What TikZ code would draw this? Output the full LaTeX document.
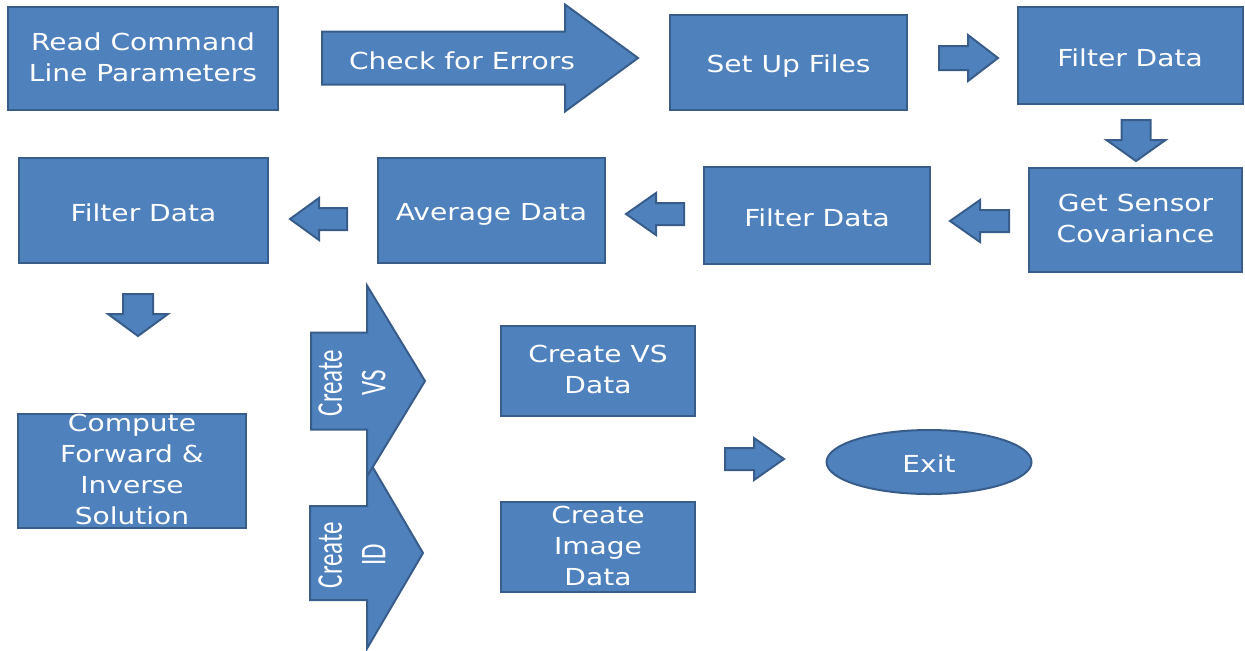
\documentclass[tikz,border=0pt]{standalone}
\usepackage{fontspec}
\setmainfont{DejaVu Sans}[FakeStretch=1.2]
\newfontfamily\narrowfont{Carlito}
\usetikzlibrary{shapes.geometric}

\definecolor{boxfill}{RGB}{79,129,189}
\definecolor{boxline}{RGB}{56,93,138}
\newcommand{\capstrut}{\rule[-1.5pt]{0pt}{13.9pt}}

\begin{document}
\begin{tikzpicture}[x=0.5pt, y=-0.5pt,
  box/.style={draw=boxline, line width=1pt, fill=boxfill, text=white, align=center, inner sep=0pt,
    font=\fontsize{11.7}{15.5}\selectfont, execute at begin node=\capstrut, execute at end node=\capstrut},
  oval/.style={box, ellipse},
  size/.style 2 args={minimum width=#1*0.5pt, minimum height=#2*0.5pt},
  arrowtext/.style={text=white, align=center, inner sep=0pt, font=\fontsize{11.7}{15.5}\selectfont,
    execute at begin node=\capstrut, execute at end node=\capstrut},
  sidetext/.style={text=white, inner sep=0pt, rotate=90, font=\narrowfont\fontsize{12.5}{15}\selectfont},
  arrowbox/.style={draw=boxline, line width=1pt, fill=boxfill, line join=miter},
  pics/blockarrow/.style n args={4}{code={
    \draw[arrowbox] (0,0) -- (-#2,#4) -- (-#2,#3) -- (-#1,#3)
      -- (-#1,-#3) -- (-#2,-#3) -- (-#2,-#4) -- cycle;
  }}]
  \useasboundingbox (0,0) rectangle (1245,650);

  \node[box, size={270}{103}] (readparams) at (143,58.5) {Read Command\\Line Parameters};
  \node[box, size={237}{95}] (setup) at (788.5,62.5) {Set Up Files};
  \node[box, size={225}{97}] (filter1) at (1130,55.5) {Filter Data};
  \node[box, size={213}{104}] (getcov) at (1135.5,220) {Get Sensor\\Covariance};
  \node[box, size={226}{97}] (filter2) at (817,215.5) {Filter Data};
  \node[box, size={227}{105}] (average) at (491.5,210.5) {Average Data};
  \node[box, size={249}{105}] (filter3) at (143.5,210.5) {Filter Data};
  \node[box, size={228}{114}] (compute) at (132,471) {};
  \node[arrowtext] at (compute) {Compute\\Forward \&\\Inverse\\Solution};
  \node[box, size={194}{90}] (vsdata) at (598,371) {Create VS\\Data};
  \node[box, size={194}{90}] (imagedata) at (598,547) {Create\\Image\\Data};
  \node[oval, size={205}{64}] (exit) at (929,462) {Exit};

  \pic at (638,58) {blockarrow={316}{73}{26.5}{53.5}};
  \node[arrowtext] (checkerr) at (462,59) {Check for Errors};
  \pic at (998,58) {blockarrow={59}{30}{12}{23}};
  \pic[rotate=-90] at (1136,161) {blockarrow={41}{21}{14.5}{29.5}};
  \pic[rotate=180] at (950,221) {blockarrow={59}{30}{11}{21}};
  \pic[rotate=180] at (626,214) {blockarrow={58}{30}{11}{21}};
  \pic[rotate=180] at (290,219) {blockarrow={57}{29}{11}{21}};
  \pic[rotate=-90] at (138,336) {blockarrow={42}{22}{15}{30}};
  \pic at (784,459) {blockarrow={59}{30}{11}{21}};

  \pic at (423,553) {blockarrow={113}{56}{47}{95.5}};
  \pic at (425,381) {blockarrow={114}{58}{48.5}{95.5}};
  \node[sidetext] (createid) at (355,555) {\scalebox{1}[1.45]{\begin{tabular}{@{}c@{}}Create\\ID\end{tabular}}};
  \node[sidetext] (createvs) at (355,383) {\scalebox{1}[1.45]{\begin{tabular}{@{}c@{}}Create\\VS\end{tabular}}};
\end{tikzpicture}
\end{document}
